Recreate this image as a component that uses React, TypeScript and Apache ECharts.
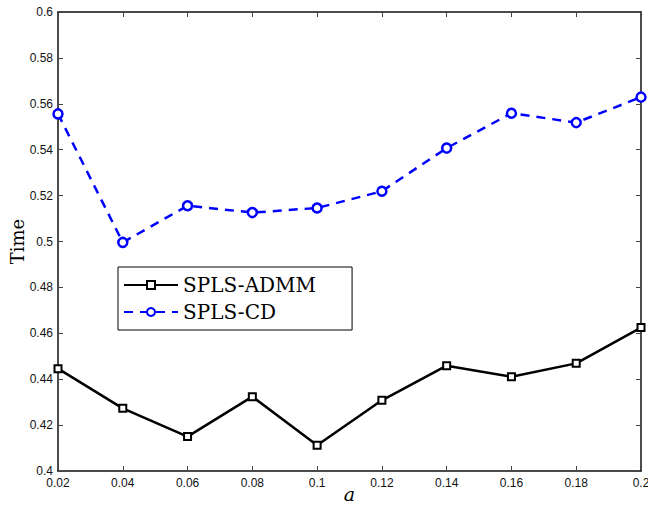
import React, { useEffect, useRef } from "react";
import * as echarts from "echarts";

const aValues = [0.02, 0.04, 0.06, 0.08, 0.1, 0.12, 0.14, 0.16, 0.18, 0.2];
const admm = [0.4446, 0.4273, 0.415, 0.4324, 0.4112, 0.4308, 0.4459, 0.4411, 0.4469, 0.4625];
const cd = [0.5556, 0.4996, 0.5156, 0.5126, 0.5146, 0.5219, 0.5407, 0.5559, 0.5518, 0.5629];

const fmt = (v: number) => String(parseFloat(v.toFixed(2)));

export default function App() {
  const ref = useRef<HTMLDivElement>(null);
  useEffect(() => {
    const chart = echarts.init(ref.current!, null, { renderer: "svg" });
    const tickStyle = { show: true, inside: true, length: 5, lineStyle: { color: "#444", width: 1 } };
    const axisLine = { show: true, onZero: false, lineStyle: { color: "#111", width: 1.5 } };
    chart.setOption({
      animation: false,
      backgroundColor: "#fff",
      grid: { left: 58, right: 7, top: 12, bottom: 35, containLabel: false, outerBoundsMode: "none" },
      legend: {
        orient: "vertical",
        left: 118,
        top: 267,
        itemWidth: 54,
        itemHeight: 10,
        itemGap: 7,
        padding: [8, 36, 8, 5],
        borderColor: "#000",
        borderWidth: 1,
        borderRadius: 0,
        backgroundColor: "#fff",
        textStyle: { fontFamily: "'DejaVu Serif', serif", fontSize: 20, color: "#000" },
        data: ["SPLS-ADMM", "SPLS-CD"],
      },
      xAxis: [
        {
          type: "value",
          min: 0.02,
          max: 0.2,
          interval: 0.02,
          name: "a",
          nameLocation: "middle",
          nameGap: 15,
          nameMoveOverlap: false,
          nameTextStyle: { fontFamily: "'DejaVu Serif', serif", fontStyle: "italic", fontSize: 19, lineHeight: 16, color: "#000" },
          axisLine,
          axisTick: tickStyle,
          splitLine: { show: false },
          axisLabel: { formatter: fmt, fontFamily: "Liberation Sans", fontSize: 12, color: "#111", margin: 6 },
        },
        {
          type: "value",
          position: "top",
          min: 0.02,
          max: 0.2,
          interval: 0.02,
          axisLine,
          axisTick: tickStyle,
          axisLabel: { show: false },
          splitLine: { show: false },
        },
      ],
      yAxis: [
        {
          type: "value",
          min: 0.4,
          max: 0.6,
          interval: 0.02,
          name: "Time",
          nameLocation: "middle",
          nameGap: 32,
          nameMoveOverlap: false,
          nameTextStyle: { fontFamily: "'DejaVu Serif', serif", fontSize: 18, color: "#000" },
          axisLine,
          axisTick: tickStyle,
          splitLine: { show: false },
          axisLabel: { formatter: fmt, fontFamily: "Liberation Sans", fontSize: 12, color: "#111", margin: 5 },
        },
        {
          type: "value",
          position: "right",
          min: 0.4,
          max: 0.6,
          interval: 0.02,
          axisLine,
          axisTick: tickStyle,
          axisLabel: { show: false },
          splitLine: { show: false },
        },
      ],
      series: [
        {
          name: "SPLS-ADMM",
          type: "line",
          data: aValues.map((a, i) => [a, admm[i]]),
          symbol: "rect",
          symbolSize: 7,
          showAllSymbol: true,
          itemStyle: { color: "#fff", borderColor: "#000", borderWidth: 2 },
          lineStyle: { color: "#000", width: 2.5 },
          color: "#000",
        },
        {
          name: "SPLS-CD",
          type: "line",
          data: aValues.map((a, i) => [a, cd[i]]),
          symbol: "circle",
          symbolSize: 9,
          showAllSymbol: true,
          itemStyle: { color: "#fff", borderColor: "#0000ff", borderWidth: 2.5 },
          lineStyle: { color: "#0000ff", width: 2.5, type: [9, 7] },
          color: "#0000ff",
        },
      ],
    });
    return () => chart.dispose();
  }, []);
  return <div ref={ref} style={{ width: 648, height: 506, position: "absolute", left: 0, top: 0 }} />;
}
